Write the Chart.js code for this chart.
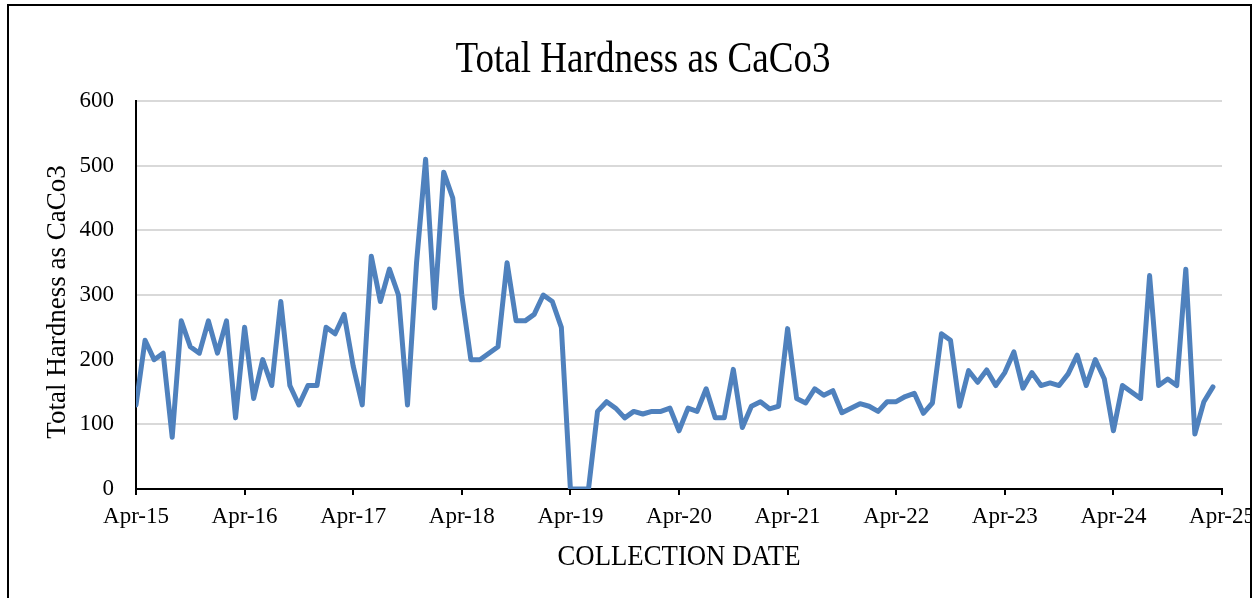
<!DOCTYPE html>
<html>
<head>
<meta charset="utf-8">
<title>Total Hardness as CaCo3</title>
<script src="https://cdn.jsdelivr.net/npm/chart.js@4"></script>
<style>
  html, body { margin: 0; padding: 0; background: #fff; overflow: hidden; width: 1258px; height: 598px; }
  #frame {
    position: absolute; left: 7px; top: 4px; width: 1241px; height: 700px;
    border: 2px solid #000; overflow: hidden; background: #fff;
  }
  #chart { position: absolute; left: -9px; top: -6px; }
</style>
</head>
<body>
<div id="frame"><canvas id="chart" width="1258" height="598"></canvas></div>
<script>
// Monthly collection dates, Apr 2015 – Mar 2025
const months = [
  'Apr-15','May-15','Jun-15','Jul-15','Aug-15','Sep-15','Oct-15','Nov-15','Dec-15',
  'Jan-16','Feb-16','Mar-16','Apr-16','May-16','Jun-16','Jul-16','Aug-16','Sep-16','Oct-16','Nov-16','Dec-16',
  'Jan-17','Feb-17','Mar-17','Apr-17','May-17','Jun-17','Jul-17','Aug-17','Sep-17','Oct-17','Nov-17','Dec-17',
  'Jan-18','Feb-18','Mar-18','Apr-18','May-18','Jun-18','Jul-18','Aug-18','Sep-18','Oct-18','Nov-18','Dec-18',
  'Jan-19','Feb-19','Mar-19','Apr-19','May-19','Jun-19','Jul-19','Aug-19','Sep-19','Oct-19','Nov-19','Dec-19',
  'Jan-20','Feb-20','Mar-20','Apr-20','May-20','Jun-20','Jul-20','Aug-20','Sep-20','Oct-20','Nov-20','Dec-20',
  'Jan-21','Feb-21','Mar-21','Apr-21','May-21','Jun-21','Jul-21','Aug-21','Sep-21','Oct-21','Nov-21','Dec-21',
  'Jan-22','Feb-22','Mar-22','Apr-22','May-22','Jun-22','Jul-22','Aug-22','Sep-22','Oct-22','Nov-22','Dec-22',
  'Jan-23','Feb-23','Mar-23','Apr-23','May-23','Jun-23','Jul-23','Aug-23','Sep-23','Oct-23','Nov-23','Dec-23',
  'Jan-24','Feb-24','Mar-24','Apr-24','May-24','Jun-24','Jul-24','Aug-24','Sep-24','Oct-24','Nov-24','Dec-24',
  'Jan-25','Feb-25','Mar-25'
];

// Total hardness as CaCO3 (mg/L), one reading per month
const hardness = [
  130, 230, 200, 210, 80, 260, 220, 210, 260,
  210, 260, 110, 250, 140, 200, 160, 290, 160, 130, 160, 160,
  250, 240, 270, 190, 130, 360, 290, 340, 300, 130, 350, 510,
  280, 490, 450, 300, 200, 200, 210, 220, 350, 260, 260, 270,
  300, 290, 250, 0, 0, 0, 120, 135, 125, 110, 120, 116,
  120, 120, 125, 90, 125, 120, 155, 110, 110, 185, 95, 128,
  135, 124, 128, 248, 140, 133, 155, 145, 152, 118, 125, 132,
  128, 120, 135, 135, 143, 148, 117, 133, 240, 230, 128, 183,
  165, 184, 160, 180, 212, 156, 180, 160, 164, 160, 178, 207,
  160, 200, 170, 90, 160, 150, 140, 330, 160, 170, 160, 340,
  85, 135, 158
];

// Yearly tick labels on the date axis
const yearTicks = ['Apr-15','Apr-16','Apr-17','Apr-18','Apr-19','Apr-20','Apr-21','Apr-22','Apr-23','Apr-24','Apr-25'];

const chartTitle = 'Total Hardness as CaCo3';
const yTitle = 'Total Hardness as CaCo3';
const xTitle = 'COLLECTION DATE';

const SERIF = "'Liberation Serif', 'Times New Roman', serif";

// Draws a line of text squeezed horizontally to a set width
function drawCondensed(ctx, text, font, cx, baseline, width) {
  ctx.save();
  ctx.font = font;
  const natural = ctx.measureText(text).width;
  ctx.translate(cx, baseline);
  ctx.scale(width / natural, 1);
  ctx.fillText(text, 0, 0);
  ctx.restore();
}

// Titles are drawn by hand so they can sit exactly where the frame wants them
const titlesPlugin = {
  id: 'titles',
  afterDraw(chart) {
    const ctx = chart.ctx;
    const area = chart.chartArea;
    ctx.save();
    ctx.fillStyle = '#000';
    ctx.textAlign = 'center';
    ctx.textBaseline = 'alphabetic';

    drawCondensed(ctx, chartTitle, '44px ' + SERIF, 643, 72, 375);
    drawCondensed(ctx, xTitle, '30px ' + SERIF, (area.left + area.right) / 2, 565, 243);

    // y axis title
    ctx.save();
    ctx.font = '27px ' + SERIF;
    ctx.translate(65, 302);
    ctx.rotate(-Math.PI / 2);
    ctx.fillText(yTitle, 0, 0);
    ctx.restore();

    ctx.restore();
  }
};

const points = hardness.map((v, i) => ({ x: i, y: v }));

new Chart(document.getElementById('chart'), {
  type: 'line',
  data: {
    labels: months,
    datasets: [{
      label: yTitle,
      data: points,
      borderColor: '#4f81bd',
      backgroundColor: '#4f81bd',
      borderWidth: 5,
      borderJoinStyle: 'round',
      borderCapStyle: 'round',
      pointRadius: 0,
      tension: 0,
      fill: false
    }]
  },
  options: {
    responsive: false,
    animation: false,
    events: [],
    layout: { padding: { top: 101, right: 36, bottom: 0, left: 0 } },
    plugins: {
      legend: { display: false },
      title: { display: false },
      tooltip: { enabled: false }
    },
    scales: {
      x: {
        type: 'linear',
        min: 0,
        max: 120,
        afterFit(scale) {
          scale.height = 109;
          scale.paddingRight = 0;
          scale.paddingLeft = 0;
        },
        afterBuildTicks(scale) {
          scale.ticks = yearTicks.map((_, i) => ({ value: i * 12 }));
        },
        ticks: {
          autoSkip: false,
          maxRotation: 0,
          padding: 8,
          color: '#000',
          font: { family: SERIF, size: 23 },
          callback: (value) => yearTicks[Math.round(value / 12)]
        },
        grid: {
          drawOnChartArea: false,
          drawTicks: true,
          tickLength: 6,
          color: '#000',
          lineWidth: 2
        },
        border: { display: true, color: '#000', width: 2 }
      },
      y: {
        min: 0,
        max: 600,
        afterFit(scale) { scale.width = 136; },
        ticks: {
          stepSize: 100,
          padding: 22,
          color: '#000',
          font: { family: SERIF, size: 23 }
        },
        grid: {
          drawTicks: false,
          color: '#d9d9d9',
          lineWidth: 2
        },
        border: { display: true, color: '#000', width: 2 }
      }
    }
  },
  plugins: [titlesPlugin]
});
</script>
</body>
</html>
